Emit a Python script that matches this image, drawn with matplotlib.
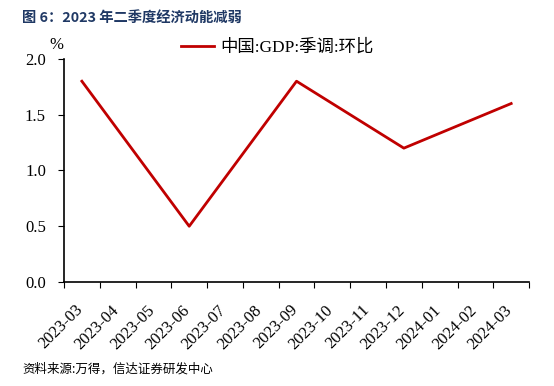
import matplotlib
matplotlib.use("Agg")
import matplotlib.pyplot as plt
from matplotlib.transforms import offset_copy
import numpy as np

plt.rcParams['font.family'] = ['Liberation Serif', 'Noto Sans CJK SC']

months = ["2023-03", "2023-04", "2023-05", "2023-06", "2023-07", "2023-08", "2023-09",
          "2023-10", "2023-11", "2023-12", "2024-01", "2024-02", "2024-03"]
q_months = ["2023-03", "2023-06", "2023-09", "2023-12", "2024-03"]
gdp_qoq = [1.8, 0.5, 1.8, 1.2, 1.6]
yticks = [0.0, 0.5, 1.0, 1.5, 2.0]

RED = "#C00000"
NAVY = "#1F3864"

fig = plt.figure(figsize=(5.54, 3.86), dpi=100)
ax = fig.add_axes([0.1155, 0.2694, 0.8395, 0.578])

xs = [months.index(m) for m in q_months]
ax.plot(xs, gdp_qoq, color=RED, lw=2, label="中国:GDP:季调:环比")

ax.set_xlim(-0.5, len(months) - 0.5)
ax.set_ylim(0, 2.0)
ax.set_yticks(yticks)
ax.set_yticklabels([f"{v:.1f}" for v in yticks], fontsize=12)
ax.tick_params(axis="y", length=4, direction="out", pad=9)

# category boundaries get the tick marks, labels sit under the category centres
ax.set_xticks(np.arange(-0.5, len(months)))
ax.set_xticklabels([])
ax.tick_params(axis="x", length=4, direction="out")
lbl_tr = offset_copy(ax.get_xaxis_transform(), fig=fig, x=-7, y=-20, units="dots")
for i, m in enumerate(months):
    ax.text(i, 0, m, transform=lbl_tr, rotation=45, ha="right", va="top",
            rotation_mode="anchor", fontsize=12)

for s in ("top", "right"):
    ax.spines[s].set_visible(False)
for s in ("left", "bottom"):
    ax.spines[s].set_linewidth(1.2)

fig.legend(loc="center", bbox_to_anchor=(0.5, 0.876), frameon=False,
           fontsize=12.5, handlelength=1.9, handletextpad=0.35)

fig.text(0.101, 0.872, "%", fontsize=12, ha="center")
fig.text(0.04, 0.953, "图 6：2023 年二季度经济动能减弱", fontsize=10.3, fontweight="bold",
         color=NAVY, va="center", family=["Noto Sans CJK SC"])
fig.text(0.04, 0.044, "资料来源:万得，信达证券研发中心", fontsize=9, style="italic",
         va="center", family=["Noto Sans CJK SC"])

fig.savefig("out.png", dpi=100)
